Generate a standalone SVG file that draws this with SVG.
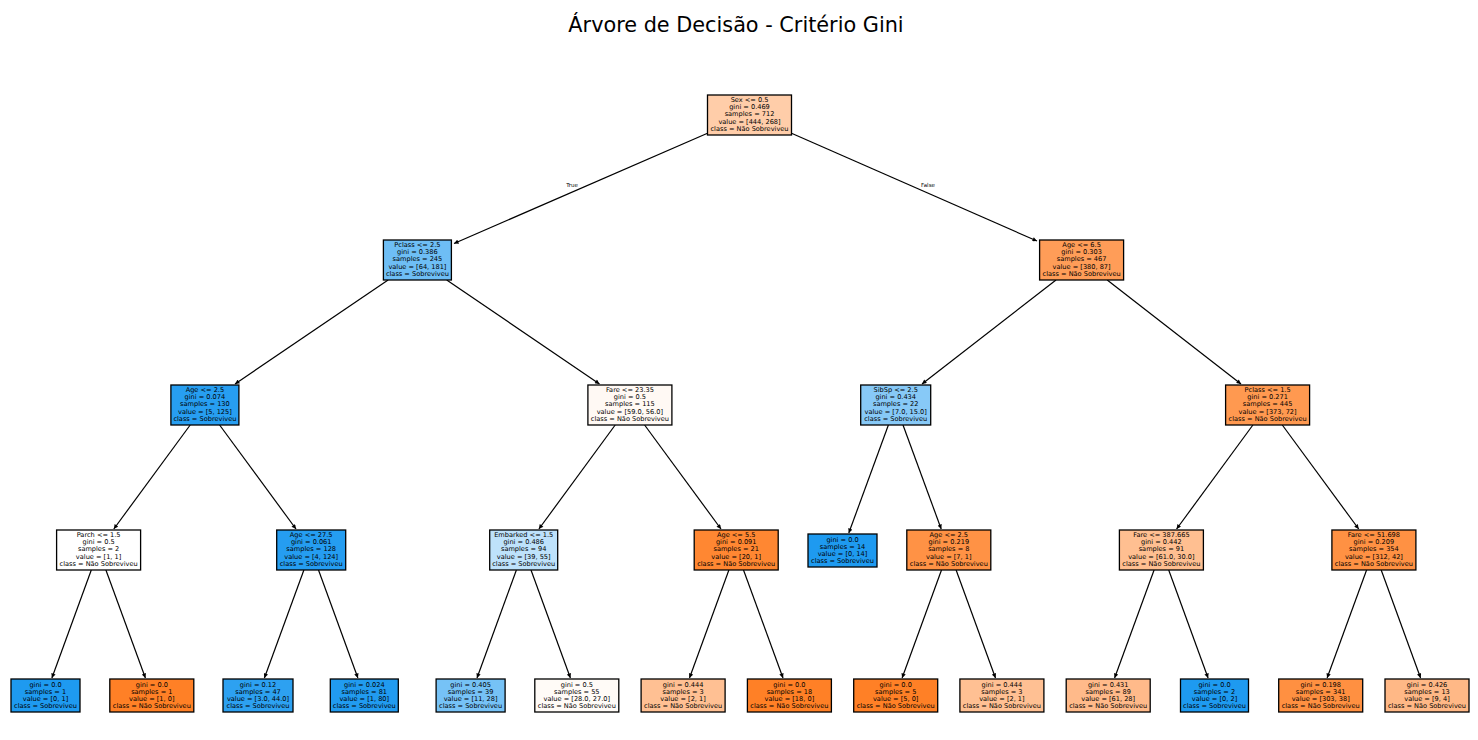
<svg xmlns="http://www.w3.org/2000/svg" width="1478" height="740" viewBox="0 0 1478 740">
<style>
.n rect{stroke:#000;stroke-width:1.3}
.n text{font-family:"DejaVu Sans","Liberation Sans",sans-serif;font-size:6.6px;text-anchor:middle;fill:#000}
.e line{stroke:#000;stroke-width:1.2;marker-end:url(#ah)}
.lbl{font-family:"DejaVu Sans","Liberation Sans",sans-serif;font-size:5.5px;text-anchor:middle;fill:#000}
.title{font-family:"DejaVu Sans","Liberation Sans",sans-serif;font-size:20.8px;text-anchor:middle;fill:#000}
</style>
<defs>
<marker id="ah" viewBox="0 0 10 10" refX="10" refY="5" markerUnits="userSpaceOnUse" markerWidth="6" markerHeight="4.5" orient="auto">
<path d="M0,0 L10,5 L0,10 z" fill="#000"/>
</marker>
</defs>
<rect width="1478" height="740" fill="#fff"/>
<text class="title" x="736" y="32">Árvore de Decisão - Critério Gini</text>

<g id="edges" class="e">
<line x1="707.5" y1="133.3" x2="454" y2="243.5"/>
<line x1="791.5" y1="133.3" x2="1037" y2="241"/>
<line x1="388.1" y1="280" x2="235" y2="384"/>
<line x1="446.7" y1="280" x2="599.5" y2="384"/>
<line x1="1056" y1="280" x2="922" y2="384"/>
<line x1="1107.2" y1="280" x2="1241" y2="384"/>
<line x1="190.2" y1="425" x2="113.8" y2="529"/>
<line x1="219.6" y1="425" x2="296" y2="529"/>
<line x1="615.2" y1="425" x2="538.9" y2="529"/>
<line x1="644.6" y1="425" x2="721" y2="529"/>
<line x1="888.4" y1="425" x2="848.8" y2="533"/>
<line x1="903" y1="425" x2="941.2" y2="529"/>
<line x1="1252.9" y1="425" x2="1176.6" y2="529"/>
<line x1="1282.3" y1="425" x2="1358.7" y2="529"/>
<line x1="91.3" y1="570" x2="51.9" y2="678"/>
<line x1="105.9" y1="570" x2="145.4" y2="678"/>
<line x1="303.9" y1="570" x2="264.4" y2="678"/>
<line x1="318.5" y1="570" x2="357.9" y2="678"/>
<line x1="516.4" y1="570" x2="477" y2="678"/>
<line x1="531" y1="570" x2="570.4" y2="678"/>
<line x1="728.9" y1="570" x2="689.5" y2="678"/>
<line x1="743.5" y1="570" x2="783" y2="678"/>
<line x1="941.5" y1="570" x2="902.1" y2="678"/>
<line x1="956.1" y1="570" x2="995.5" y2="678"/>
<line x1="1154.1" y1="570" x2="1114.6" y2="678"/>
<line x1="1168.7" y1="570" x2="1208.1" y2="678"/>
<line x1="1366.6" y1="570" x2="1327.1" y2="678"/>
<line x1="1381.2" y1="570" x2="1420.6" y2="678"/>
</g>
<text class="lbl" x="572" y="187">True</text>
<text class="lbl" x="928" y="187">False</text>

<g id="n0" class="n" transform="translate(749.5,115)"><rect x="-42" y="-20" width="84" height="40" fill="#ffcda9"/><text y="-13.1">Sex &lt;= 0.5</text><text y="-5.9">gini = 0.469</text><text y="1.3">samples = 712</text><text y="8.5">value = [444, 268]</text><text y="15.7">class = Não Sobreviveu</text></g>

<g id="n1" class="n" transform="translate(417.4,260)"><rect x="-34" y="-20" width="68" height="40" fill="#6ebef5"/><text y="-13.1">Pclass &lt;= 2.5</text><text y="-5.9">gini = 0.386</text><text y="1.3">samples = 245</text><text y="8.5">value = [64, 181]</text><text y="15.7">class = Sobreviveu</text></g>

<g id="n2" class="n" transform="translate(1081.6,260)"><rect x="-42" y="-20" width="84" height="40" fill="#ff9d58"/><text y="-13.1">Age &lt;= 6.5</text><text y="-5.9">gini = 0.303</text><text y="1.3">samples = 467</text><text y="8.5">value = [380, 87]</text><text y="15.7">class = Não Sobreviveu</text></g>

<g id="n3" class="n" transform="translate(204.9,405)"><rect x="-34" y="-20" width="68" height="40" fill="#279ef1"/><text y="-13.1">Age &lt;= 2.5</text><text y="-5.9">gini = 0.074</text><text y="1.3">samples = 130</text><text y="8.5">value = [5, 125]</text><text y="15.7">class = Sobreviveu</text></g>

<g id="n4" class="n" transform="translate(629.9,405)"><rect x="-42" y="-20" width="84" height="40" fill="#fff9f4"/><text y="-13.1">Fare &lt;= 23.35</text><text y="-5.9">gini = 0.5</text><text y="1.3">samples = 115</text><text y="8.5">value = [59.0, 56.0]</text><text y="15.7">class = Não Sobreviveu</text></g>

<g id="n5" class="n" transform="translate(895.7,405)"><rect x="-35" y="-20" width="70" height="40" fill="#87c9f7"/><text y="-13.1">SibSp &lt;= 2.5</text><text y="-5.9">gini = 0.434</text><text y="1.3">samples = 22</text><text y="8.5">value = [7.0, 15.0]</text><text y="15.7">class = Sobreviveu</text></g>

<g id="n6" class="n" transform="translate(1267.6,405)"><rect x="-42" y="-20" width="84" height="40" fill="#ff9950"/><text y="-13.1">Pclass &lt;= 1.5</text><text y="-5.9">gini = 0.271</text><text y="1.3">samples = 445</text><text y="8.5">value = [373, 72]</text><text y="15.7">class = Não Sobreviveu</text></g>

<g id="n7" class="n" transform="translate(98.6,550)"><rect x="-42" y="-20" width="84" height="40" fill="#ffffff"/><text y="-13.1">Parch &lt;= 1.5</text><text y="-5.9">gini = 0.5</text><text y="1.3">samples = 2</text><text y="8.5">value = [1, 1]</text><text y="15.7">class = Não Sobreviveu</text></g>

<g id="n8" class="n" transform="translate(311.2,550)"><rect x="-34.5" y="-20" width="69" height="40" fill="#259df1"/><text y="-13.1">Age &lt;= 27.5</text><text y="-5.9">gini = 0.061</text><text y="1.3">samples = 128</text><text y="8.5">value = [4, 124]</text><text y="15.7">class = Sobreviveu</text></g>

<g id="n9" class="n" transform="translate(523.7,550)"><rect x="-34" y="-20" width="68" height="40" fill="#bee2fb"/><text y="-13.1">Embarked &lt;= 1.5</text><text y="-5.9">gini = 0.486</text><text y="1.3">samples = 94</text><text y="8.5">value = [39, 55]</text><text y="15.7">class = Sobreviveu</text></g>

<g id="n10" class="n" transform="translate(736.2,550)"><rect x="-42" y="-20" width="84" height="40" fill="#ff8732"/><text y="-13.1">Age &lt;= 5.5</text><text y="-5.9">gini = 0.091</text><text y="1.3">samples = 21</text><text y="8.5">value = [20, 1]</text><text y="15.7">class = Não Sobreviveu</text></g>

<g id="n11" class="n" transform="translate(842.5,550.5)"><rect x="-34.5" y="-16.5" width="69" height="33" fill="#1e9af0"/><text y="-8.7">gini = 0.0</text><text y="-1.5">samples = 14</text><text y="5.7">value = [0, 14]</text><text y="12.9">class = Sobreviveu</text></g>

<g id="n12" class="n" transform="translate(948.8,550)"><rect x="-42" y="-20" width="84" height="40" fill="#ff9245"/><text y="-13.1">Age &lt;= 2.5</text><text y="-5.9">gini = 0.219</text><text y="1.3">samples = 8</text><text y="8.5">value = [7, 1]</text><text y="15.7">class = Não Sobreviveu</text></g>

<g id="n13" class="n" transform="translate(1161.4,550)"><rect x="-42" y="-20" width="84" height="40" fill="#ffbf91"/><text y="-13.1">Fare &lt;= 387.665</text><text y="-5.9">gini = 0.442</text><text y="1.3">samples = 91</text><text y="8.5">value = [61.0, 30.0]</text><text y="15.7">class = Não Sobreviveu</text></g>

<g id="n14" class="n" transform="translate(1373.9,550)"><rect x="-42" y="-20" width="84" height="40" fill="#ff9143"/><text y="-13.1">Fare &lt;= 51.698</text><text y="-5.9">gini = 0.209</text><text y="1.3">samples = 354</text><text y="8.5">value = [312, 42]</text><text y="15.7">class = Não Sobreviveu</text></g>

<g id="l1" class="n" transform="translate(45.5,695.5)"><rect x="-34.5" y="-16.5" width="69" height="33" fill="#1e9af0"/><text y="-8.7">gini = 0.0</text><text y="-1.5">samples = 1</text><text y="5.7">value = [0, 1]</text><text y="12.9">class = Sobreviveu</text></g>
<g id="l2" class="n" transform="translate(151.8,695.5)"><rect x="-42" y="-16.5" width="84" height="33" fill="#ff8026"/><text y="-8.7">gini = 0.0</text><text y="-1.5">samples = 1</text><text y="5.7">value = [1, 0]</text><text y="12.9">class = Não Sobreviveu</text></g>
<g id="l3" class="n" transform="translate(258,695.5)"><rect x="-35" y="-16.5" width="70" height="33" fill="#2da1f1"/><text y="-8.7">gini = 0.12</text><text y="-1.5">samples = 47</text><text y="5.7">value = [3.0, 44.0]</text><text y="12.9">class = Sobreviveu</text></g>
<g id="l4" class="n" transform="translate(364.3,695.5)"><rect x="-34" y="-16.5" width="68" height="33" fill="#219bf0"/><text y="-8.7">gini = 0.024</text><text y="-1.5">samples = 81</text><text y="5.7">value = [1, 80]</text><text y="12.9">class = Sobreviveu</text></g>
<g id="l5" class="n" transform="translate(470.6,695.5)"><rect x="-34.5" y="-16.5" width="69" height="33" fill="#76c2f6"/><text y="-8.7">gini = 0.405</text><text y="-1.5">samples = 39</text><text y="5.7">value = [11, 28]</text><text y="12.9">class = Sobreviveu</text></g>
<g id="l6" class="n" transform="translate(576.8,695.5)"><rect x="-42" y="-16.5" width="84" height="33" fill="#fffbf7"/><text y="-8.7">gini = 0.5</text><text y="-1.5">samples = 55</text><text y="5.7">value = [28.0, 27.0]</text><text y="12.9">class = Não Sobreviveu</text></g>
<g id="l7" class="n" transform="translate(683.1,695.5)"><rect x="-42" y="-16.5" width="84" height="33" fill="#ffc093"/><text y="-8.7">gini = 0.444</text><text y="-1.5">samples = 3</text><text y="5.7">value = [2, 1]</text><text y="12.9">class = Não Sobreviveu</text></g>
<g id="l8" class="n" transform="translate(789.4,695.5)"><rect x="-42" y="-16.5" width="84" height="33" fill="#ff8026"/><text y="-8.7">gini = 0.0</text><text y="-1.5">samples = 18</text><text y="5.7">value = [18, 0]</text><text y="12.9">class = Não Sobreviveu</text></g>
<g id="l9" class="n" transform="translate(895.7,695.5)"><rect x="-42" y="-16.5" width="84" height="33" fill="#ff8026"/><text y="-8.7">gini = 0.0</text><text y="-1.5">samples = 5</text><text y="5.7">value = [5, 0]</text><text y="12.9">class = Não Sobreviveu</text></g>
<g id="l10" class="n" transform="translate(1001.9,695.5)"><rect x="-42" y="-16.5" width="84" height="33" fill="#ffc093"/><text y="-8.7">gini = 0.444</text><text y="-1.5">samples = 3</text><text y="5.7">value = [2, 1]</text><text y="12.9">class = Não Sobreviveu</text></g>
<g id="l11" class="n" transform="translate(1108.2,695.5)"><rect x="-42" y="-16.5" width="84" height="33" fill="#ffba8a"/><text y="-8.7">gini = 0.431</text><text y="-1.5">samples = 89</text><text y="5.7">value = [61, 28]</text><text y="12.9">class = Não Sobreviveu</text></g>
<g id="l12" class="n" transform="translate(1214.5,695.5)"><rect x="-34" y="-16.5" width="68" height="33" fill="#1e9af0"/><text y="-8.7">gini = 0.0</text><text y="-1.5">samples = 2</text><text y="5.7">value = [0, 2]</text><text y="12.9">class = Sobreviveu</text></g>
<g id="l13" class="n" transform="translate(1320.7,695.5)"><rect x="-42" y="-16.5" width="84" height="33" fill="#ff9041"/><text y="-8.7">gini = 0.198</text><text y="-1.5">samples = 341</text><text y="5.7">value = [303, 38]</text><text y="12.9">class = Não Sobreviveu</text></g>
<g id="l14" class="n" transform="translate(1427,695.5)"><rect x="-42" y="-16.5" width="84" height="33" fill="#ffb886"/><text y="-8.7">gini = 0.426</text><text y="-1.5">samples = 13</text><text y="5.7">value = [9, 4]</text><text y="12.9">class = Não Sobreviveu</text></g>
</svg>
